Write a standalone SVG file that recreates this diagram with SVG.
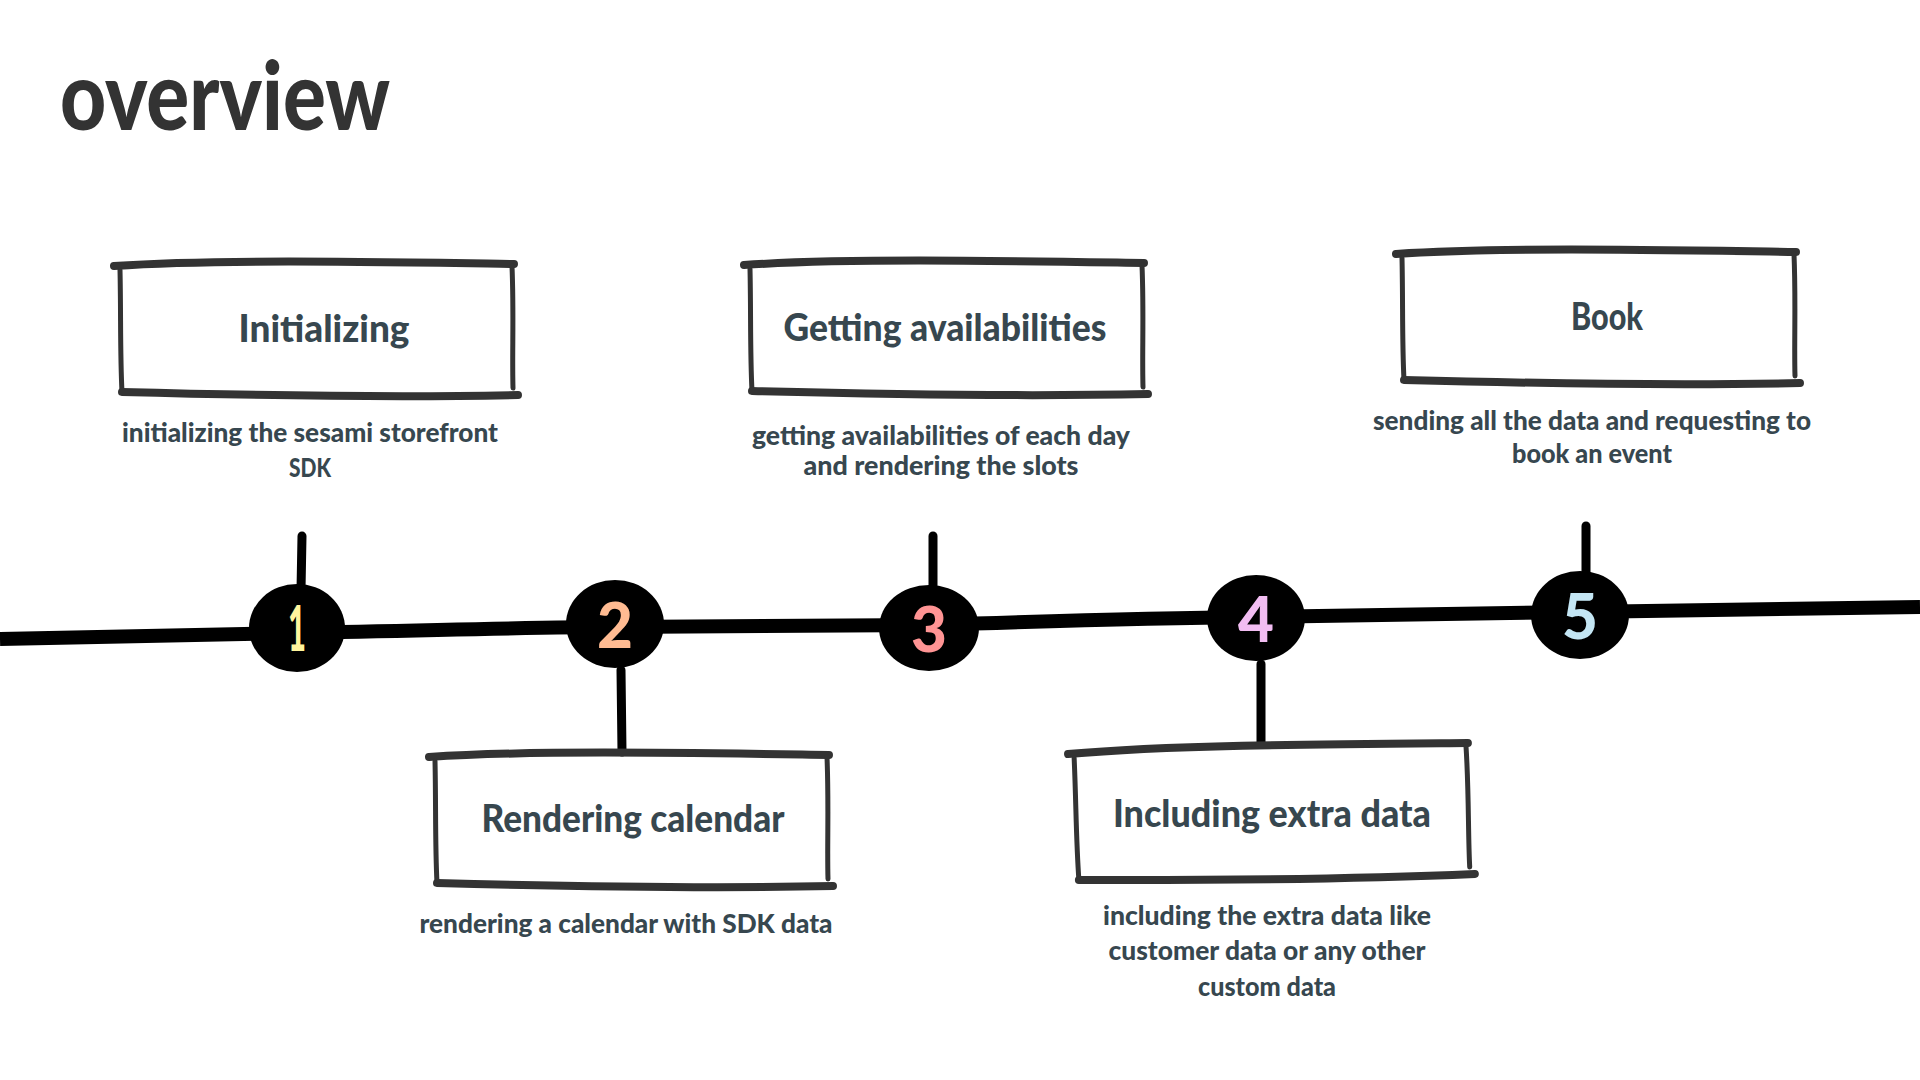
<svg xmlns="http://www.w3.org/2000/svg" xmlns:xlink="http://www.w3.org/1999/xlink" width="1920" height="1080" viewBox="0 0 1920 1080">
<style>
.bg{fill:#ffffff}
.edge{fill:none;stroke:#333333;stroke-linecap:round;stroke-linejoin:round}
.thick{stroke-width:8}
.thin{stroke-width:5}
.title{font-family:"Lato","Open Sans","Liberation Sans",sans-serif;font-weight:900;font-size:38px;fill:#37474f;text-anchor:middle}
.sub{font-family:"Lato","Open Sans","Liberation Sans",sans-serif;font-weight:900;font-size:26px;fill:#37474f;text-anchor:middle}
.head{font-family:"Lato","Open Sans","Liberation Sans",sans-serif;font-weight:900;font-size:96px;fill:#333333}
.num{font-family:"Lato","Open Sans","Liberation Sans",sans-serif;font-weight:900;font-size:62px;text-anchor:middle}
.blob{fill:#000000}
.line{fill:none;stroke:#000000;stroke-width:14;stroke-linecap:butt}
.stem{fill:none;stroke:#000000;stroke-width:9;stroke-linecap:round}
</style>
<defs>
<g id="sketchbox">
<path class="edge thick" d="M-4 2 C100 -5 260 -2 396 0"/>
<path class="edge thin" d="M2 6 C3 50 2 90 4 128"/>
<path class="edge thin" d="M394 2 C396 50 394 90 395 124"/>
<path class="edge thick" d="M4 128 C120 131 260 134 400 131"/>
</g>
</defs>
<rect class="bg" x="0" y="0" width="1920" height="1080"/>
<text class="head" x="60" y="130" textLength="330" lengthAdjust="spacingAndGlyphs">overview</text>

<g id="connectors">
<path class="line" d="M0 639 C150 636 220 634 297 633 C450 630 540 627 615 627 C750 626 840 625 929 625 C1080 620 1160 618 1256 617 C1400 615 1500 613 1580 612 C1700 610 1820 608 1920 607"/>
<path class="stem" d="M302 536 L301 590"/>
<path class="stem" d="M621 670 L622 752"/>
<path class="stem" d="M933 536 L933 588"/>
<path class="stem" d="M1261 664 L1261 744"/>
<path class="stem" d="M1586 526 L1586 578"/>
</g>

<g id="step1">
<use xlink:href="#sketchbox" x="118" y="264"/>
<text class="title" x="324" y="342" textLength="171" lengthAdjust="spacingAndGlyphs">Initializing</text>
<text class="sub" x="310" y="442" textLength="376" lengthAdjust="spacingAndGlyphs">initializing the sesami storefront</text>
<text class="sub" x="310" y="477" textLength="42" lengthAdjust="spacingAndGlyphs">SDK</text>
<ellipse class="blob" cx="297" cy="628" rx="48" ry="44"/>
<text class="num" x="297" y="651" fill="#fff59d" textLength="18" lengthAdjust="spacingAndGlyphs">1</text>
</g>

<g id="step2">
<use xlink:href="#sketchbox" x="433" y="755"/>
<text class="title" x="633" y="832" textLength="303" lengthAdjust="spacingAndGlyphs">Rendering calendar</text>
<text class="sub" x="626" y="933" textLength="413" lengthAdjust="spacingAndGlyphs">rendering a calendar with SDK data</text>
<ellipse class="blob" cx="615" cy="624" rx="49" ry="44"/>
<text class="num" x="615" y="648" fill="#ffbb92">2</text>
</g>

<g id="step3">
<use xlink:href="#sketchbox" x="748" y="263"/>
<text class="title" x="945" y="341" textLength="323" lengthAdjust="spacingAndGlyphs">Getting availabilities</text>
<text class="sub" x="941" y="445" textLength="378" lengthAdjust="spacingAndGlyphs">getting availabilities of each day</text>
<text class="sub" x="941" y="475" textLength="275" lengthAdjust="spacingAndGlyphs">and rendering the slots</text>
<ellipse class="blob" cx="929" cy="628" rx="50" ry="43"/>
<text class="num" x="929" y="652" fill="#ff9494">3</text>
</g>

<g id="step4">
<use xlink:href="#sketchbox" transform="translate(1072 752) rotate(-1.3)"/>
<text class="title" x="1272" y="827" textLength="318" lengthAdjust="spacingAndGlyphs">Including extra data</text>
<text class="sub" x="1267" y="925" textLength="328" lengthAdjust="spacingAndGlyphs">including the extra data like</text>
<text class="sub" x="1267" y="960" textLength="317" lengthAdjust="spacingAndGlyphs">customer data or any other</text>
<text class="sub" x="1267" y="996" textLength="138" lengthAdjust="spacingAndGlyphs">custom data</text>
<ellipse class="blob" cx="1256" cy="618" rx="49" ry="43"/>
<text class="num" x="1256" y="642" fill="#f2bdf2">4</text>
</g>

<g id="step5">
<use xlink:href="#sketchbox" x="1400" y="252"/>
<text class="title" x="1607" y="330" textLength="72" lengthAdjust="spacingAndGlyphs">Book</text>
<text class="sub" x="1592" y="430" textLength="438" lengthAdjust="spacingAndGlyphs">sending all the data and requesting to</text>
<text class="sub" x="1592" y="463" textLength="160" lengthAdjust="spacingAndGlyphs">book an event</text>
<ellipse class="blob" cx="1580" cy="615" rx="49" ry="44"/>
<text class="num" x="1580" y="639" fill="#c4e6f4">5</text>
</g>
</svg>
